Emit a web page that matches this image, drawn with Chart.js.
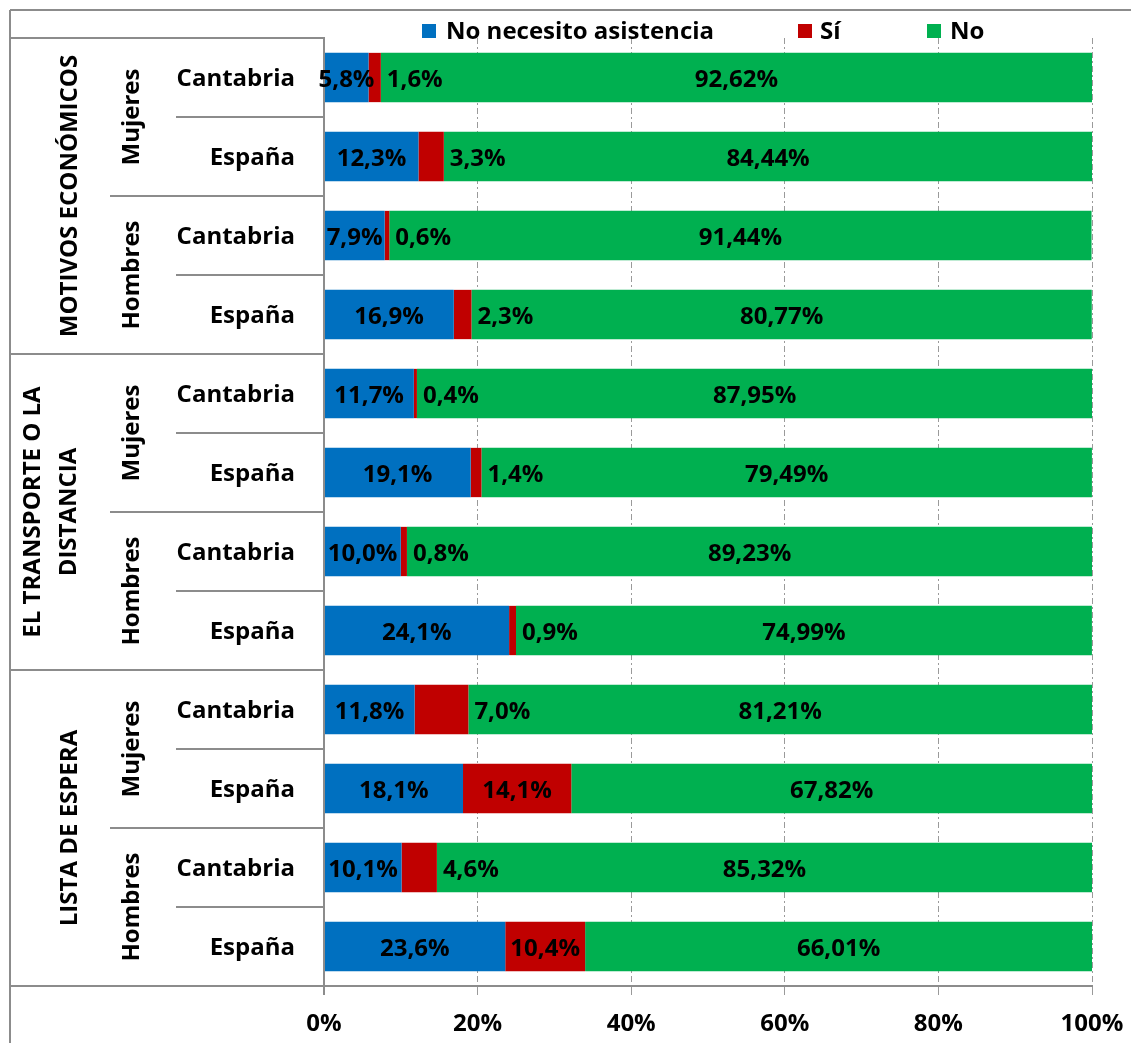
<!DOCTYPE html>
<html>
<head>
<meta charset="utf-8">
<script src="https://cdn.jsdelivr.net/npm/chart.js@4.4.0/dist/chart.umd.min.js"></script>
<style>
  html, body { margin: 0; padding: 0; background: #ffffff; }
  #wrap { width: 1131px; height: 1043px; position: relative; }
</style>
</head>
<body>
<div id="wrap"><canvas id="chart" width="1131" height="1043"></canvas></div>
<script>
// Row labels (innermost level, one per bar)
const regions = ['Cantabria', 'España', 'Cantabria', 'España',
                 'Cantabria', 'España', 'Cantabria', 'España',
                 'Cantabria', 'España', 'Cantabria', 'España'];
// Middle level: one per pair of rows
const genders = ['Mujeres', 'Hombres', 'Mujeres', 'Hombres', 'Mujeres', 'Hombres'];
// Outer level: one per block of four rows (lines of each label)
const motives = [['MOTIVOS ECONÓMICOS'], ['EL TRANSPORTE O LA', 'DISTANCIA'], ['LISTA DE ESPERA']];

// Series (percent)
const seriesNames = ['No necesito asistencia', 'Sí', 'No'];
const noNecesito = [5.8, 12.3, 7.9, 16.9, 11.7, 19.1, 10.0, 24.1, 11.8, 18.1, 10.1, 23.6];
const si         = [1.6, 3.3, 0.6, 2.3, 0.4, 1.4, 0.8, 0.9, 7.0, 14.1, 4.6, 10.4];
const no         = [92.62, 84.44, 91.44, 80.77, 87.95, 79.49, 89.23, 74.99, 81.21, 67.82, 85.32, 66.01];
const decimals   = [1, 1, 2];

// Axis ticks
const xTicks = [0, 20, 40, 60, 80, 100];

const FONT = '"Open Sans", Lato, sans-serif';
const LINE = '#8c8c8c';
const GRID = '#9a9a9a';

const fmt = (v, d) => v.toFixed(d).replace('.', ',') + '%';

// Frame, category table lines, rotated group labels and legend
const frame = {
  id: 'frame',
  afterDraw(chart) {
    const ctx = chart.ctx;
    const ys = chart.scales.y;
    const xs = chart.scales.x;
    const top = ys.top, bottom = ys.bottom, axisX = xs.left;
    const n = regions.length;
    const edge = i => i === 0 ? top : i === n ? bottom
      : (ys.getPixelForValue(i - 1) + ys.getPixelForValue(i)) / 2;

    ctx.save();
    ctx.strokeStyle = LINE;
    ctx.lineWidth = 2;
    const line = (x1, y1, x2, y2) => {
      ctx.beginPath(); ctx.moveTo(x1, y1); ctx.lineTo(x2, y2); ctx.stroke();
    };
    // outer frame
    line(10, 10, 10, chart.height);
    line(10, 10, chart.width, 10);
    // table rows
    for (let i = 0; i <= n; i++) {
      let x0;
      if (i % 4 === 0) x0 = 10;
      else if (i % 2 === 0) x0 = 110;
      else x0 = 176;
      line(x0, edge(i), axisX, edge(i));
    }
    line(axisX, top, axisX, bottom + 9);
    line(10, bottom, xs.right, bottom);

    // rotated labels (baseline x given)
    ctx.fillStyle = '#000';
    ctx.font = 'bold 24px ' + FONT;
    ctx.textAlign = 'center';
    ctx.textBaseline = 'alphabetic';
    const vtext = (t, bx, cy) => {
      ctx.save();
      ctx.translate(bx, cy);
      ctx.rotate(-Math.PI / 2);
      ctx.fillText(t, 0, 0);
      ctx.restore();
    };
    motives.forEach((m, g) => {
      const cy = (edge(g * 4) + edge(g * 4 + 4)) / 2;
      if (m.length === 1) vtext(m[0], 77, cy);
      else m.forEach((t, k) => vtext(t, 40 + k * 36, cy));
    });
    genders.forEach((g, k) => {
      const cy = (edge(k * 2) + edge(k * 2 + 2)) / 2;
      vtext(g, 139, cy);
    });

    // legend
    const boxX = [422, 798, 927];
    const textX = [446, 820, 950];
    chart.data.datasets.forEach((ds, di) => {
      ctx.fillStyle = ds.backgroundColor;
      ctx.fillRect(boxX[di], 24, 14, 14);
      ctx.fillStyle = '#000';
      ctx.textAlign = 'left';
      ctx.fillText(ds.label, textX[di], 38.5);
    });
    ctx.restore();
  }
};

// Value labels on each segment (drawn last, over the axis line)
const valueLabels = {
  id: 'valueLabels',
  afterDraw(chart) {
    const ctx = chart.ctx;
    ctx.save();
    ctx.font = 'bold 24px ' + FONT;
    ctx.fillStyle = '#000';
    ctx.textBaseline = 'alphabetic';
    ctx.textAlign = 'center';
    chart.data.datasets.forEach((ds, di) => {
      const meta = chart.getDatasetMeta(di);
      meta.data.forEach((bar, i) => {
        const txt = fmt(ds.data[i], decimals[di]);
        const w = ctx.measureText(txt).width;
        const left = Math.min(bar.x, bar.base);
        const right = Math.max(bar.x, bar.base);
        let cx = (left + right) / 2;
        // narrow "Sí" segments: label sits just after the segment
        if (di === 1 && w > right - left) cx = right + 6 + w / 2;
        ctx.fillText(txt, cx, bar.y + 9);
      });
    });
    ctx.restore();
  }
};

new Chart(document.getElementById('chart'), {
  type: 'bar',
  data: {
    labels: regions,
    datasets: [
      { label: seriesNames[0], data: noNecesito, backgroundColor: '#0070C0' },
      { label: seriesNames[1], data: si, backgroundColor: '#C00000' },
      { label: seriesNames[2], data: no, backgroundColor: '#00B050' }
    ]
  },
  options: {
    indexAxis: 'y',
    responsive: false,
    animation: false,
    devicePixelRatio: 1,
    barPercentage: 0.624,
    categoryPercentage: 1,
    layout: { padding: { top: 38, right: 39, left: 0, bottom: 0 } },
    plugins: { legend: { display: false }, tooltip: { enabled: false } },
    scales: {
      x: {
        stacked: true,
        min: 0, max: 100,
        afterBuildTicks: s => { s.ticks = xTicks.map(v => ({ value: v })); },
        afterFit: s => { s.height = 57; s.paddingLeft = 0; s.paddingRight = 0; },
        ticks: {
          callback: v => v + '%',
          color: '#000',
          font: { family: FONT, size: 24, weight: 'bold' },
          padding: 15,
          maxRotation: 0
        },
        grid: {
          color: GRID, lineWidth: 1, drawTicks: true, tickLength: 9,
          tickColor: GRID, tickWidth: 1
        },
        border: { display: true, color: LINE, width: 2, dash: [6, 3, 2, 3] }
      },
      y: {
        stacked: true,
        afterFit: s => { s.width = 324; s.paddingTop = 0; s.paddingBottom = 0; },
        ticks: {
          color: '#000',
          font: { family: FONT, size: 24, weight: 'bold' },
          padding: 29,
          labelOffset: 2
        },
        grid: { display: false, drawTicks: false },
        border: { display: true, color: LINE, width: 2 }
      }
    }
  },
  plugins: [frame, valueLabels]
});
</script>
</body>
</html>
